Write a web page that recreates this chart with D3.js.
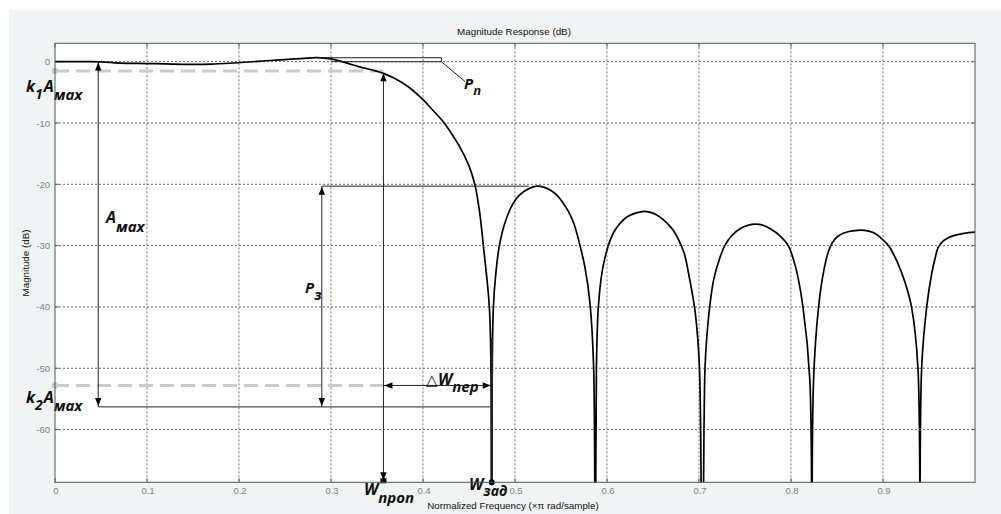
<!DOCTYPE html>
<html><head><meta charset="utf-8">
<script src="https://cdn.jsdelivr.net/npm/d3@7"></script>
<style>body{margin:0;background:#fff;overflow:hidden}</style>
</head><body><svg id="c" width="1001" height="514"></svg>
<script>
// ---- data ----
const freq = [0,0.03,0.05,0.07,0.1,0.12,0.15,0.17,0.19,0.21,0.23,0.25,0.27,0.285,0.3,0.31,0.32,0.33,0.345,0.357,0.37,0.385,0.4,0.41,0.422,0.43,0.44,0.45,0.4565,0.4615,0.4656,0.4721,0.474,0.4747,
  0.4752,0.4765,0.4795,0.483,0.489,0.498,0.506,0.515,0.5236,0.532,0.54,0.547,0.5525,0.558,0.564,0.5707,0.576,0.5815,0.5855,0.587,
  0.5885,0.5906,0.595,0.6014,0.607,0.614,0.622,0.631,0.641,0.65,0.658,0.665,0.672,0.678,0.684,0.69,0.696,0.7005,0.7035,
  0.7065,0.709,0.712,0.716,0.722,0.728,0.736,0.745,0.753,0.761,0.77,0.778,0.788,0.797,0.805,0.813,0.8205,0.8225,
  0.8245,0.83,0.836,0.842,0.848,0.855,0.863,0.872,0.88,0.89,0.898,0.906,0.915,0.924,0.931,0.938,0.94,
  0.942,0.9475,0.953,0.957,0.96,0.965,0.97,0.976,0.988,1.0];
const magDb = [0,0,-0.02,-0.22,-0.3,-0.35,-0.45,-0.4,-0.25,-0.05,0.15,0.35,0.55,0.65,0.45,0.1,-0.35,-0.8,-1.35,-1.9,-2.8,-4.2,-6.2,-7.8,-9.8,-11.5,-13.9,-17.0,-20.1,-24.5,-30,-40,-52,-100,
  -52,-40,-34,-30,-26.3,-23.1,-21.6,-20.7,-20.3,-20.5,-21.1,-22,-23.1,-24.4,-26.4,-30,-33.5,-39.4,-50,-100,
  -50,-40,-34,-30,-27.9,-26.4,-25.3,-24.7,-24.4,-24.7,-25.4,-26.3,-27.5,-29.1,-31.3,-35.6,-41,-50,-100,
  -50,-44,-39.5,-35.5,-32.3,-30,-28.3,-27.2,-26.7,-26.5,-26.7,-27.3,-28.4,-30,-33.5,-40,-52,-100,
  -52,-40,-33.8,-30.4,-28.9,-28.1,-27.7,-27.5,-27.5,-27.9,-28.8,-30,-32.5,-36,-40,-50,-100,
  -50,-40,-34.5,-31.8,-30.3,-29.3,-28.8,-28.4,-28,-27.8];
const xTicks = [0,0.1,0.2,0.3,0.4,0.5,0.6,0.7,0.8,0.9];
const yTicks = [0,-10,-20,-30,-40,-50,-60];
const xTickLabels = ["0","0.1","0.2","0.3","0.4","0.5","0.6","0.7","0.8","0.9"];
const yTickLabels = ["0","-10","-20","-30","-40","-50","-60"];
// annotation levels (data units)
const fAmax = 0.047, fP3 = 0.290, fProp = 0.357, fZad = 0.4747, fPpEnd = 0.42, fPpStart = 0.285, fP3End = 0.515;
const dbK1 = -1.5, dbK2 = -52.8, dbBottom = -56.3, dbPpTop = 0.65, dbP3 = -20.3, dbPropTop = -1.9;

const svg = d3.select("#c");
const L = 55, R = 975, T = 43.3, B = 482.3;
const x = d3.scaleLinear().domain([0, 1]).range([L, R]);
const y = d3.scaleLinear().domain([-68.6, 3]).range([B, T]);

// figure background
svg.append("rect").attr("x", 9).attr("y", 10).attr("width", 992).attr("height", 504).attr("fill", "#f0f4f4");
svg.append("rect").attr("x", L).attr("y", T).attr("width", R - L).attr("height", B - T).attr("fill", "#fff");

// grid
const grid = svg.append("g").attr("stroke", "#6a6f70").attr("stroke-width", 1).attr("stroke-dasharray", "2,2");
xTicks.filter(d => d > 0).forEach(d => grid.append("line").attr("x1", x(d)).attr("x2", x(d)).attr("y1", T).attr("y2", B));
yTicks.forEach(d => grid.append("line").attr("x1", L).attr("x2", R).attr("y1", y(d)).attr("y2", y(d)));

// tick marks on all sides
const tk = svg.append("g").attr("stroke", "#5a6464").attr("stroke-width", 1);
xTicks.forEach(d => {
  tk.append("line").attr("x1", x(d)).attr("x2", x(d)).attr("y1", B).attr("y2", B - 4);
  tk.append("line").attr("x1", x(d)).attr("x2", x(d)).attr("y1", T).attr("y2", T + 4);
});
yTicks.forEach(d => {
  tk.append("line").attr("x1", L).attr("x2", L + 4).attr("y1", y(d)).attr("y2", y(d));
  tk.append("line").attr("x1", R).attr("x2", R - 4).attr("y1", y(d)).attr("y2", y(d));
});

// tick labels
const tf = "'Liberation Sans', Arial, sans-serif";
svg.append("g").selectAll("text").data(xTicks).join("text")
  .attr("x", d => x(d) + 1).attr("y", 494).attr("text-anchor", "middle")
  .attr("font-family", tf).attr("font-size", 9.5).attr("fill", "#7a8488").text((d, i) => xTickLabels[i]);
svg.append("g").selectAll("text").data(yTicks).join("text")
  .attr("x", 50).attr("y", d => y(d) + 3.5).attr("text-anchor", "end")
  .attr("font-family", tf).attr("font-size", 9.5).attr("fill", "#7a8488").text((d, i) => yTickLabels[i]);

// titles
svg.append("text").attr("x", 514).attr("y", 35).attr("text-anchor", "middle").attr("font-family", tf)
  .attr("font-size", 9.8).attr("fill", "#111").text("Magnitude Response (dB)");
svg.append("text").attr("x", 513).attr("y", 509).attr("text-anchor", "middle").attr("font-family", tf)
  .attr("font-size", 9.8).attr("fill", "#111").text("Normalized Frequency (\u00d7\u03c0 rad/sample)");
svg.append("text").attr("transform", "translate(29,263) rotate(-90)").attr("text-anchor", "middle").attr("font-family", tf)
  .attr("font-size", 9.8).attr("fill", "#111").text("Magnitude (dB)");

// clip
svg.append("clipPath").attr("id", "clip").append("rect").attr("x", L).attr("y", T).attr("width", R - L).attr("height", B - T);

// dashed k lines
const dashC = "#c6cdcc";
[dbK1, dbK2].forEach(db => {
  svg.append("line").attr("x1", L).attr("x2", x(fProp)).attr("y1", y(db)).attr("y2", y(db))
    .attr("stroke", dashC).attr("stroke-width", 3).attr("stroke-dasharray", "14,7");
  svg.append("circle").attr("cx", L).attr("cy", y(db)).attr("r", 3.2).attr("fill", dashC);
});

// response curve
const pts = freq.map((f, i) => [f, magDb[i]]);
svg.append("path").attr("clip-path", "url(#clip)").datum(pts)
  .attr("d", d3.line().x(d => x(d[0])).y(d => y(d[1])).curve(d3.curveCatmullRom.alpha(0.5)))
  .attr("fill", "none").attr("stroke", "#000").attr("stroke-width", 1.7);

// annotations
const ann = svg.append("g").attr("stroke", "#222").attr("stroke-width", 1).attr("fill", "none");
function seg(x1, y1, x2, y2, w) { ann.append("line").attr("x1", x1).attr("y1", y1).attr("x2", x2).attr("y2", y2).attr("stroke-width", w || 1); }
function arrow(px, py, dir) {
  const s = 3.2, l = 8;
  let p;
  if (dir === "up") p = [[px, py], [px - s, py + l], [px + s, py + l]];
  if (dir === "down") p = [[px, py], [px - s, py - l], [px + s, py - l]];
  if (dir === "left") p = [[px, py], [px + l, py - s], [px + l, py + s]];
  if (dir === "right") p = [[px, py], [px - l, py - s], [px - l, py + s]];
  svg.append("path").attr("d", "M" + p.join("L") + "Z").attr("fill", "#000");
}
// Pп box
seg(x(fPpStart), y(dbPpTop), x(fPpEnd), y(dbPpTop));
seg(x(fPpEnd), y(dbPpTop), x(fPpEnd), y(0));
seg(x(0.3), y(0), x(fPpEnd), y(0));
seg(x(fPpEnd), y(0), 465, 81.5);
// Amax
seg(x(fAmax), y(0), x(fAmax), y(dbBottom));
arrow(x(fAmax), y(0) + 0.8, "up");
arrow(x(fAmax), y(dbBottom) - 1, "down");
seg(x(fAmax), y(dbBottom), x(fZad), y(dbBottom));
// P3
seg(x(fP3), y(dbP3), x(fP3), y(dbBottom));
seg(x(fP3), y(dbP3), x(fP3End), y(dbP3));
arrow(x(fP3), y(dbP3) + 0.5, "up");
arrow(x(fP3), y(dbBottom) - 1, "down");
// Wпроп
seg(x(fProp), y(dbPropTop), x(fProp), B);
arrow(x(fProp), y(dbPropTop), "up");
arrow(x(fProp), B - 2, "down");
svg.append("rect").attr("x", x(fProp) - 3).attr("y", B - 4).attr("width", 6).attr("height", 5).attr("fill", "#000");
// ΔWпер
seg(x(fProp), y(dbK2), x(fZad), y(dbK2));
arrow(x(fProp) + 1, y(dbK2), "left");
arrow(x(fZad) - 1, y(dbK2), "right");
// Wзад
seg(x(fZad), y(-45), x(fZad), B, 2.4);
svg.append("circle").attr("cx", x(fZad)).attr("cy", B).attr("r", 3).attr("fill", "#000");

// labels
const lf = "'Open Sans', Lato, sans-serif";
function label(px, py, parts) {
  const t = svg.append("text").attr("x", px).attr("y", py).attr("font-family", lf)
    .attr("font-weight", "bold").attr("font-style", "italic").attr("fill", "#111");
  parts.forEach(p => {
    t.append("tspan").attr("dy", p.dy || 0).attr("dx", p.dx || 0).attr("font-size", p.size || 16)
      .attr("font-weight", p.w || "bold").attr("font-style", p.st || "italic").text(p.t);
  });
}
label(26, 92, [{t: "k", size: 16}, {t: "1", size: 14, dy: 7}, {t: "A", size: 16, dy: -7, dx: 1}, {t: "мах", size: 15, dy: 8}]);
label(26, 403, [{t: "k", size: 16}, {t: "2", size: 14, dy: 7}, {t: "A", size: 16, dy: -7, dx: 1}, {t: "мах", size: 15, dy: 8}]);
label(106, 223, [{t: "A", size: 16}, {t: "мах", size: 15, dy: 9}]);
label(305, 293, [{t: "P", size: 15}, {t: "з", size: 14, dy: 7}]);
label(464, 89, [{t: "P", size: 15}, {t: "п", size: 13, dy: 6}]);
label(426, 385, [{t: "\u25b3", size: 15, w: "normal", st: "normal"}, {t: "W", size: 16}, {t: "пер", size: 15, dy: 7}]);
label(364, 495, [{t: "W", size: 16}, {t: "проп", size: 15, dy: 8}]);
label(469, 490, [{t: "W", size: 16}, {t: "зад", size: 14, dy: 6}]);

// frame
svg.append("rect").attr("x", L).attr("y", T).attr("width", R - L).attr("height", B - T)
  .attr("fill", "none").attr("stroke", "#4d5858").attr("stroke-width", 1);
</script></body></html>
